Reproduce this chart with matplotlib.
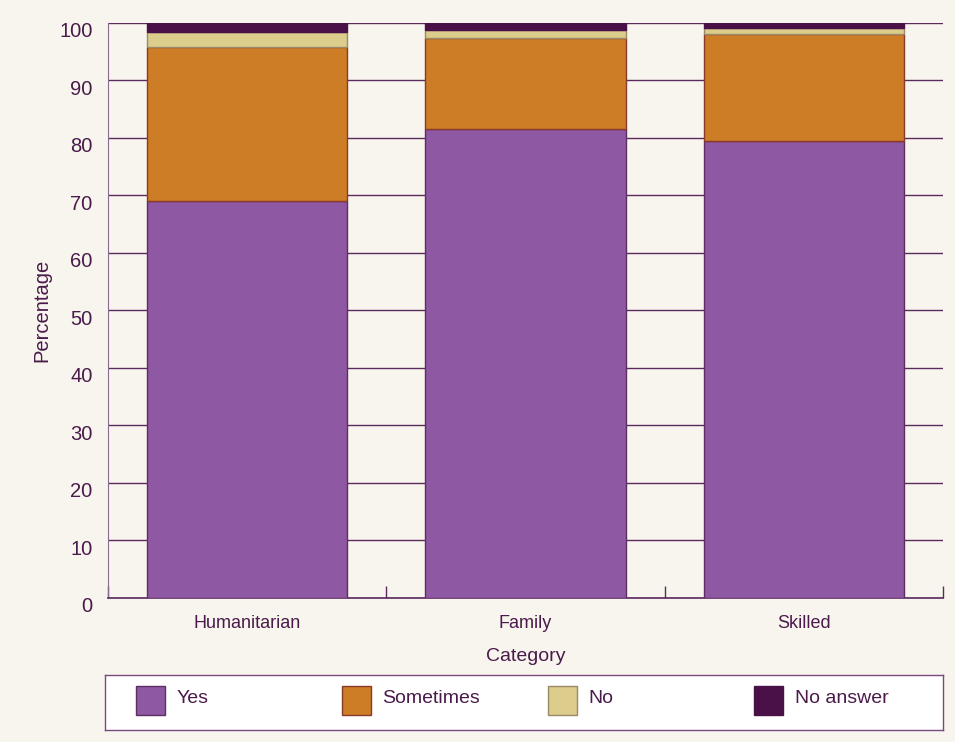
import matplotlib
matplotlib.use("Agg")
import matplotlib.pyplot as plt
import matplotlib.transforms as mtransforms
from matplotlib.patches import Rectangle
import numpy as np

plt.rcParams['font.family'] = ['Liberation Sans', 'DejaVu Sans']

categories = ["Humanitarian", "Family", "Skilled"]
series_names = ["Yes", "Sometimes", "No", "No answer"]
yes = [69.0, 81.6, 79.5]
sometimes = [26.8, 15.8, 18.6]
no = [2.7, 1.3, 1.1]
no_answer = [1.5, 1.3, 0.8]
series = [yes, sometimes, no, no_answer]
colors = ["#8E58A3", "#CD7D25", "#DCCD8C", "#4A1048"]
edges = ["#5E2D62", "#8A3A2A", "#9A8A6A", "#4A1048"]

bg = "#F8F5EE"
txt = "#4A1A4A"
line = "#5A2A5E"

fig = plt.figure(figsize=(9.55, 7.42), dpi=100, facecolor=bg)
ax = fig.add_axes([0.1131, 0.1941, 0.8743, 0.7749])
ax.set_facecolor(bg)

x = np.arange(len(categories))
bottom = np.zeros(len(categories))
for vals, c, e in zip(series, colors, edges):
    ax.bar(x, vals, width=0.72, bottom=bottom, color=c, edgecolor=e,
           linewidth=1, zorder=3)
    bottom += np.array(vals)

ax.set_xlim(-0.5, 2.5)
ax.set_ylim(0, 100)
ax.set_yticks(range(0, 101, 10))
ax.yaxis.grid(True, color=line, linewidth=1, zorder=0)
ax.set_axisbelow(True)
for s in ["top", "right"]:
    ax.spines[s].set_visible(False)
ax.spines["left"].set_color("#8A6A8F")
ax.spines["bottom"].set_color(line)
ax.spines["bottom"].set_linewidth(1.2)

ax.set_xticks(x)
ax.set_xticklabels(categories)
ax.set_xticks([-0.5, 0.5, 1.5, 2.5], minor=True)
ax.tick_params(axis="x", which="major", length=0, pad=12, labelsize=13, labelcolor=txt)
ax.tick_params(axis="x", which="minor", direction="in", length=9, color=line, width=1)
ax.tick_params(axis="y", length=0, pad=11, labelsize=14.5, labelcolor=txt)

# y labels sit a little below their gridlines in the original
shift = mtransforms.ScaledTranslation(0, -5 / 72, fig.dpi_scale_trans)
for lbl in ax.get_yticklabels():
    lbl.set_transform(lbl.get_transform() + shift)

ax.set_xlabel("Category", fontsize=14, color=txt, labelpad=12)
ax.set_ylabel("Percentage", fontsize=14.5, color=txt, labelpad=6)

# legend box
lax = fig.add_axes([0.1099, 0.0162, 0.8775, 0.0741])
lax.set_facecolor("white")
lax.set_xlim(0, 1)
lax.set_ylim(0, 1)
lax.set_xticks([])
lax.set_yticks([])
for s in lax.spines.values():
    s.set_color("#7A4A7E")
    s.set_linewidth(1)
for i, (name, c, e) in enumerate(zip(series_names, colors, edges)):
    x0 = 0.037 + i * 0.246
    lax.add_patch(Rectangle((x0, 0.27), 0.0346, 0.53, facecolor=c, edgecolor=e, linewidth=1))
    lax.text(x0 + 0.048, 0.58, name, fontsize=14, color=txt, va="center", ha="left")

fig.savefig("out.png", dpi=100, facecolor=bg)
